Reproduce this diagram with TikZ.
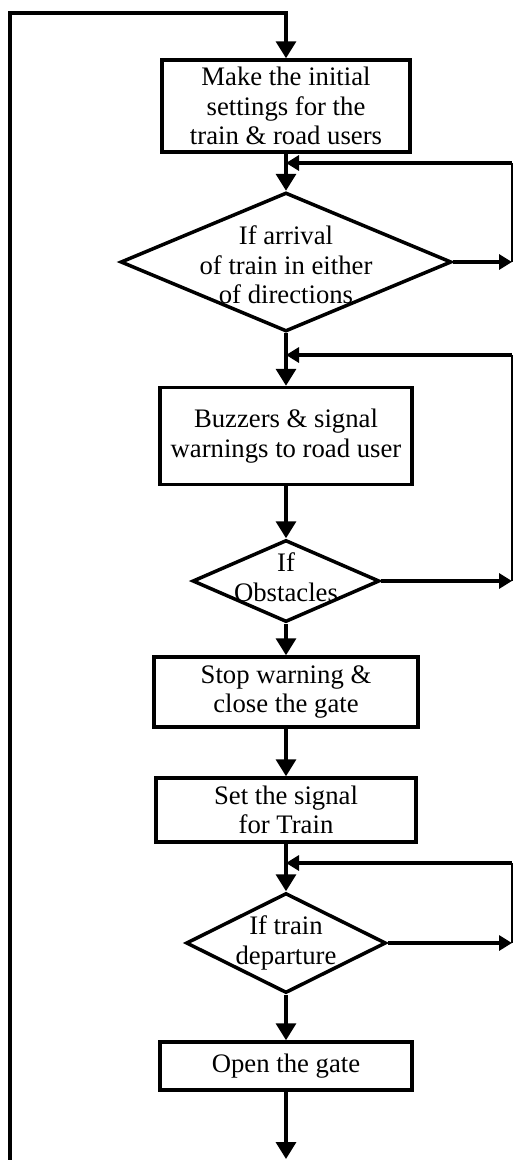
\documentclass[tikz,border=0pt]{standalone}
\usepackage{fontspec}
\setmainfont{Liberation Serif}
\usetikzlibrary{shapes.geometric}
\usetikzlibrary{arrows.meta}

\begin{document}
\begin{tikzpicture}[x=0.02cm, y=-0.02cm,
  font=\fontsize{15.2}{16.8}\selectfont,
  box/.style={draw, line width=2pt, align=center, inner sep=0pt},
  decision/.style={draw, diamond, line width=2pt, inner sep=0pt},
  dtext/.style={align=center, inner sep=0pt},
  flow/.style={line width=2pt, -{Triangle[length=0.34cm, width=0.4cm]}},
  back/.style={line width=1.8pt, -{Triangle[length=0.26cm, width=0.3cm]}},
  rail/.style={line width=0.9pt}]
\def\cx{286}

\useasboundingbox (0,0) rectangle (513,1160);

% main column
\node[box, minimum width=4.96cm, minimum height=1.84cm] (init) at (\cx,106)
  {Make the initial\\settings for the\\train \& road users};
\node[decision, minimum width=6.62cm, minimum height=2.78cm] (arrive) at (\cx,262) {};
\node[dtext] (arrivetxt) at (\cx,265) {If arrival\\of train in either\\of directions};
\node[box, minimum width=5.04cm, minimum height=1.94cm] (buzz) at (\cx,436)
  {Buzzers \& signal\\warnings to road user};
\node[decision, minimum width=3.74cm, minimum height=1.64cm] (obst) at (\cx,581) {};
\node[dtext] (obsttxt) at (\cx,577) {If\\Obstacles};
\node[box, minimum width=5.28cm, minimum height=1.4cm] (close) at (\cx,692)
  {Stop warning \&\\close the gate};
\node[box, minimum width=5.2cm, minimum height=1.28cm] (sig) at (\cx,810)
  {Set the signal\\for Train};
\node[decision, minimum width=4cm, minimum height=2cm] (depart) at (\cx,943) {};
\node[dtext] (departtxt) at (\cx,943) {If train\\departure};
\node[box, minimum width=5.04cm, minimum height=0.96cm] (open) at (\cx,1066) {Open the gate};

\coordinate (top) at (\cx,13);
\coordinate (topleft) at (10,13);
\coordinate (botleft) at (10,1160);
\coordinate (exit) at (\cx,1159);
\coordinate (j1) at (\cx,163);
\coordinate (r1) at (512,163);
\coordinate (j2) at (\cx,355);
\coordinate (r2) at (512,355);
\coordinate (j3) at (\cx,863);
\coordinate (r3) at (512,863);

\draw[flow] (botleft) -- (topleft) -- (top) -- (init.north);
\draw[flow] (init.south) -- (arrive.north);
\draw[flow] (arrive.south) -- (buzz.north);
\draw[flow] (buzz.south) -- (obst.north);
\draw[flow] (obst.south) -- (close.north);
\draw[flow] (close.south) -- (sig.north);
\draw[flow] (sig.south) -- (depart.north);
\draw[flow] (depart.south) -- (open.north);
\draw[flow] (open.south) -- (exit);

% loops on the right
\draw[back] (arrive.east) -- (arrive.east -| r1);
\draw[rail] (arrive.east -| r1) -- (r1);
\draw[back] (r1) -- (j1);

\draw[back] (obst.east) -- (obst.east -| r2);
\draw[rail] (obst.east -| r2) -- (r2);
\draw[back] (r2) -- (j2);

\draw[back] (depart.east) -- (depart.east -| r3);
\draw[rail] (depart.east -| r3) -- (r3);
\draw[back] (r3) -- (j3);
\end{tikzpicture}
\end{document}
